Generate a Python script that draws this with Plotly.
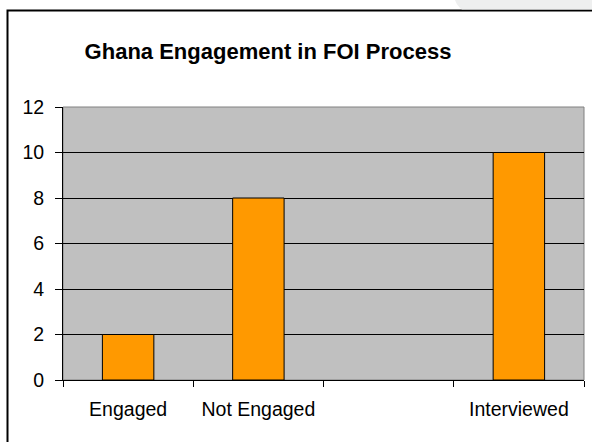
import plotly.graph_objects as go

categories = ["Engaged", "Not Engaged", " ", "Interviewed"]
values = [2, 8, None, 10]
y_ticks = [0, 2, 4, 6, 8, 10, 12]
title_text = "Ghana Engagement in FOI Process"

W, H = 592, 442
L, R, T, B = 63, 8, 107, 62
pw, ph = W - L - R, H - T - B

def px(x):
    return (x - L) / pw

def py(y):
    return (H - B - y) / ph

fig = go.Figure(go.Bar(
    x=categories, y=values,
    marker=dict(color="#FF9900", line=dict(color="black", width=1)),
    width=0.395,
))

fig.update_layout(
    width=W, height=H,
    margin=dict(l=L, r=R, t=T, b=B, pad=0),
    paper_bgcolor="white", plot_bgcolor="#C0C0C0",
    font=dict(family="Liberation Sans, Arial", size=19.5, color="black"),
    showlegend=False,
    title=dict(text="<b>" + title_text + "</b>", xref="container", x=268 / W,
               xanchor="center", yref="container", y=1 - 51 / H, yanchor="middle",
               font=dict(size=22, family="Liberation Sans, Arial", color="black")),
    xaxis=dict(type="category", categoryorder="array", categoryarray=categories,
               tickson="boundaries", ticks="outside", ticklen=6, tickcolor="black",
               showline=True, linecolor="black", linewidth=1, showgrid=False,
               ticklabelstandoff=12, range=[-0.5, 3.5]),
    yaxis=dict(range=[0, 12], tickvals=y_ticks, ticks="outside", ticklen=7,
               tickcolor="black", showline=True, linecolor="black", linewidth=1,
               showgrid=True, gridcolor="black", gridwidth=1, zeroline=False,
               ticklabelstandoff=7),
    shapes=[
        dict(type="rect", xref="paper", yref="paper", x0=0, x1=1, y0=0, y1=1,
             line=dict(color="#808080", width=1), layer="below"),
        dict(type="rect", xref="paper", yref="paper",
             x0=px(7.5), x1=px(620), y0=py(10.5), y1=py(480),
             line=dict(color="black", width=2)),
        dict(type="path", xref="paper", yref="paper",
             path=f"M {px(455)},{py(0)} L {px(600)},{py(0)} L {px(600)},{py(9.5)} L {px(462)},{py(9.5)} Q {px(457)},{py(6)} {px(455)},{py(0)} Z",
             fillcolor="#EEEFEF", line=dict(width=0)),
    ],
)

fig.write_html("out.html", config={"displayModeBar": False},
               post_script="document.body.style.margin='0';document.body.style.overflow='hidden';")
